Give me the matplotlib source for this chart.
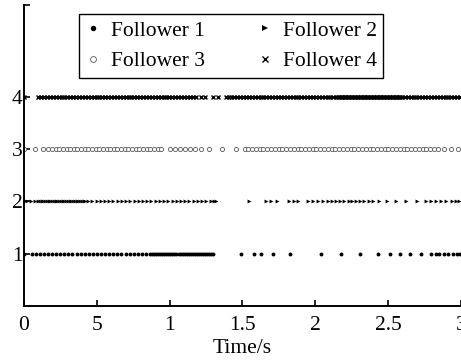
import matplotlib
matplotlib.use("Agg")
import matplotlib.pyplot as plt
import numpy as np

plt.rcParams['font.family'] = ['Liberation Serif', 'DejaVu Serif']

# event (trigger) instants, in ms
f1_ms = [0, 53, 81, 109, 137, 165, 193, 221, 249, 277, 305, 333, 361, 389, 417, 445,
         473, 501, 529, 557, 585, 613, 641, 669, 697, 725, 753, 781, 809, 837, 865,
         879, 893, 907, 921, 935, 949, 963, 977, 991, 1005, 1019, 1033, 1047, 1061,
         1075, 1089, 1103, 1117, 1131, 1145, 1159, 1173, 1187, 1201, 1215, 1229, 1243,
         1257, 1271, 1285, 1295,
         1491, 1582, 1628, 1708, 1827, 2039, 2176, 2306, 2427, 2514, 2580, 2649, 2724,
         2792, 2825, 2852, 2880, 2914, 2942, 2970, 2995]

f2_ms = [0, 18, 46, 75, 98, 110, 122, 134, 146, 158, 170, 182, 194, 206, 218, 230, 242,
         254, 266, 278, 290, 302, 314, 326, 338, 350, 362, 374, 386, 398, 410, 418,
         440, 469, 498, 527, 556, 585, 614, 643, 672, 701, 730, 759, 788, 817, 846, 875,
         904, 933, 962, 991, 1020, 1049, 1078, 1107, 1136, 1165, 1194, 1223, 1252, 1281,
         1305, 1318,
         1548, 1662, 1696, 1737, 1817, 1852, 1879, 1947, 1982, 2016, 2050, 2084, 2114,
         2142, 2171, 2199, 2228, 2251, 2279, 2306, 2336, 2370, 2397, 2438, 2495, 2553,
         2621, 2701, 2758, 2792, 2827, 2861, 2895, 2941, 2963, 2986]

f3_ms = [0, 75, 128, 167, 192, 217, 242, 267, 292, 317, 342, 367, 392, 417, 442, 467,
         492, 517, 542, 567, 592, 617, 642, 667, 692, 717, 742, 767, 792, 817, 842, 867,
         892, 917, 942,
         1000, 1034, 1068, 1102, 1137, 1171, 1217, 1269, 1360, 1457,
         1514, 1540, 1566, 1592, 1618, 1644, 1670, 1696, 1722, 1748, 1774, 1800, 1826,
         1852, 1878, 1904, 1930, 1956, 1982, 2008, 2034, 2060, 2086, 2112, 2138, 2164,
         2190, 2216, 2242, 2268, 2294, 2320, 2346, 2372, 2398, 2424, 2450, 2476, 2502,
         2528, 2554, 2580, 2606, 2632, 2658, 2684, 2710, 2736, 2762, 2788, 2814, 2840,
         2884, 2930, 2980]

f4_ms = [0, 98, 118, 138, 158, 178, 198, 218, 238, 258, 278, 298, 318, 338, 358, 378,
         398, 418, 438, 458, 478, 498, 518, 538, 558, 578, 598, 618, 638, 658, 678, 698,
         718, 738, 758, 778, 798, 818, 838, 858, 878, 898, 918, 938, 958, 978, 998, 1018,
         1038, 1058, 1078, 1098, 1118, 1138, 1158, 1178,
         1218, 1245, 1297, 1332,
         1384, 1404, 1424, 1444, 1464, 1484, 1504, 1524, 1544, 1564, 1584, 1604, 1624,
         1644, 1664, 1684, 1704, 1724, 1744, 1764, 1784, 1804, 1824, 1844, 1864, 1884,
         1904, 1924, 1944, 1964, 1984, 2004, 2024, 2044, 2064, 2084, 2104, 2124, 2144,
         2154, 2164, 2174, 2184, 2194, 2204, 2214, 2224, 2234, 2244, 2254, 2264, 2274,
         2284, 2294, 2304, 2314, 2324, 2334, 2344, 2354, 2364, 2374, 2384, 2394, 2404,
         2414, 2424, 2434, 2444, 2454, 2464, 2474, 2484, 2494, 2504, 2514, 2524, 2534,
         2544, 2554, 2564, 2574, 2584, 2594,
         2614, 2634, 2654, 2674, 2694, 2714, 2734, 2754, 2774, 2794, 2814, 2834, 2854,
         2874, 2894, 2914, 2934, 2954, 2974, 2994]

labels = ['Follower 1', 'Follower 2', 'Follower 3', 'Follower 4']
xticks = [0, 0.5, 1, 1.5, 2, 2.5, 3]
xticklabels = ['0', '5', '1', '1.5', '2', '2.5', '3']

fig = plt.figure(figsize=(4.61, 3.6), dpi=100)
ax = fig.add_axes([0.052, 0.15, 0.948, 0.836])

t1 = np.array(f1_ms) / 1000
t2 = np.array(f2_ms) / 1000
t3 = np.array(f3_ms) / 1000
t4 = np.array(f4_ms) / 1000

h1, = ax.plot(t1, np.full(len(t1), 1), 'o', ms=2.8, color='black', mew=0, label=labels[0])
h2, = ax.plot(t2, np.full(len(t2), 2), '>', ms=2.8, color='black', mew=0, label=labels[1])
h3, = ax.plot(t3, np.full(len(t3), 3), 'o', ms=3.0, mfc='white', mec='0.35', mew=0.6, label=labels[2])
h4, = ax.plot(t4, np.full(len(t4), 4), 'x', ms=3.0, color='black', mew=1.0, label=labels[3])

ax.set_xlim(0, 3)
ax.set_ylim(0, 5.75)
ax.set_xticks(xticks)
ax.set_xticklabels(xticklabels)
ax.set_yticks([1, 2, 3, 4, 5.75])
ax.set_yticklabels(['1', '2', '3', '4', ''])
ax.tick_params(direction='in', length=4, width=1.2, labelsize=15.5)
ax.tick_params(axis='x', pad=7)
ax.tick_params(axis='y', pad=1)
ax.spines['top'].set_visible(False)
ax.spines['right'].set_visible(False)
ax.spines['left'].set_linewidth(1.4)
ax.spines['bottom'].set_linewidth(1.4)
ax.set_xlabel('Time/s', fontsize=15.5, labelpad=3)

# row-major order: 1 2 / 3 4
leg = ax.legend([h1, h3, h2, h4], [labels[0], labels[2], labels[1], labels[3]],
                loc='upper left', bbox_to_anchor=(0.126, 0.97), ncol=2,
                fontsize=15.5, frameon=True, fancybox=False, edgecolor='black',
                framealpha=1, handlelength=0.7, handletextpad=0.5,
                columnspacing=2.4, borderpad=0.3, labelspacing=0.5,
                markerscale=1.4, borderaxespad=0)
leg.get_frame().set_linewidth(1.0)

fig.savefig('out.png', dpi=100)
